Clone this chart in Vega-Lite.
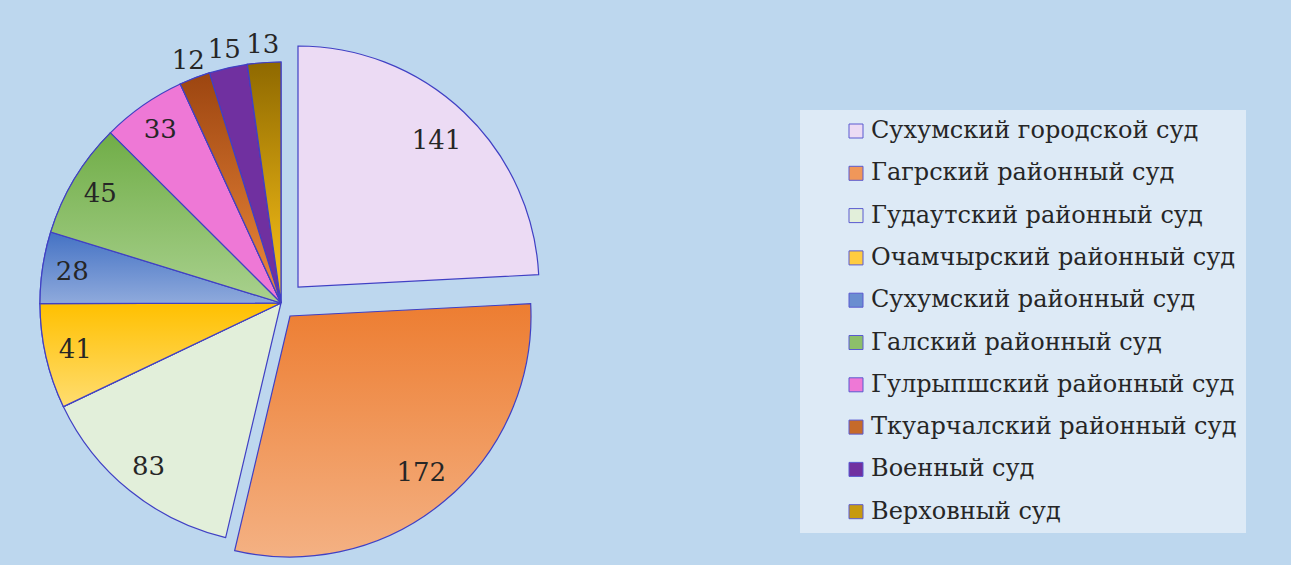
{
  "$schema": "https://vega.github.io/schema/vega-lite/v6.json",
  "width": 562,
  "height": 606,
  "autosize": {"type": "none"},
  "padding": {"left": 0, "top": 0, "right": 729, "bottom": 0},
  "background": "#BDD7EE",
  "config": {"view": {"stroke": null}},
  "data": {
    "values": [
      {"court": "Сухумский городской суд", "value": 141, "i": 0},
      {"court": "Гагрский районный суд", "value": 172, "i": 1},
      {"court": "Гудаутский районный суд", "value": 83, "i": 2},
      {"court": "Очамчырский районный суд", "value": 41, "i": 3},
      {"court": "Сухумский районный суд", "value": 28, "i": 4},
      {"court": "Галский районный суд", "value": 45, "i": 5},
      {"court": "Гулрыпшский районный суд", "value": 33, "i": 6},
      {"court": "Ткуарчалский районный суд", "value": 12, "i": 7},
      {"court": "Военный суд", "value": 15, "i": 8},
      {"court": "Верховный суд", "value": 13, "i": 9}
    ]
  },
  "encoding": {
    "theta": {"field": "value", "type": "quantitative", "stack": true},
    "order": {"field": "i", "type": "quantitative"}
  },
  "layer": [
    {
      "mark": {"type": "arc", "radius": 241, "stroke": "#4040C4", "strokeWidth": 1.2},
      "encoding": {
        "color": {
          "field": "court",
          "type": "nominal",
          "scale": {
            "domain": ["Сухумский городской суд", "Гагрский районный суд", "Гудаутский районный суд", "Очамчырский районный суд", "Сухумский районный суд", "Галский районный суд", "Гулрыпшский районный суд", "Ткуарчалский районный суд", "Военный суд", "Верховный суд"],
            "range": ["#ECDBF4", "#F0975A", "#E2EFDA", "#FFCC40", "#6A8ED0", "#8DBF6A", "#EE78D6", "#C66A2A", "#7030A0", "#C79A10"]
          },
          "legend": {
            "title": null,
            "orient": "none",
            "legendX": 800,
            "legendY": 110,
            "fillColor": "#DDEAF6",
            "padding": 9,
            "rowPadding": 18.3,
            "symbolType": "square",
            "symbolSize": 196,
            "symbolStrokeColor": "#5A5AD0",
            "symbolStrokeWidth": 1,
            "symbolOffset": 35,
            "labelOffset": 3,
            "labelFont": "DejaVu Serif",
            "labelFontSize": 24,
            "labelColor": "#262626",
            "labelLimit": 0
          }
        },
        "opacity": {"condition": {"test": "datum.i >= 2", "value": 1}, "value": 0}
      }
    },
    {
      "mark": {"type": "arc", "radius": 241, "stroke": "#4040C4", "strokeWidth": 1.2, "xOffset": 17, "yOffset": -16},
      "encoding": {
        "color": {"field": "court", "type": "nominal"},
        "opacity": {"condition": {"test": "datum.i === 0", "value": 1}, "value": 0}
      }
    },
    {
      "mark": {"type": "arc", "radius": 241, "stroke": "#4040C4", "strokeWidth": 1.2, "xOffset": 9, "yOffset": 13,
        "fill": {"gradient": "linear", "x1": 0, "y1": 0, "x2": 0, "y2": 1, "stops": [{"offset": 0, "color": "#ED7D31"}, {"offset": 1, "color": "#F4B183"}]}},
      "encoding": {
        "opacity": {"condition": {"test": "datum.i === 1", "value": 1}, "value": 0}
      }
    },
    {
      "mark": {"type": "arc", "radius": 241, "stroke": "#4040C4", "strokeWidth": 1.2,
        "fill": {"gradient": "linear", "x1": 0, "y1": 0, "x2": 0, "y2": 1, "stops": [{"offset": 0, "color": "#FFC000"}, {"offset": 1, "color": "#FFDD70"}]}},
      "encoding": {
        "opacity": {"condition": {"test": "datum.i === 3", "value": 1}, "value": 0}
      }
    },
    {
      "mark": {"type": "arc", "radius": 241, "stroke": "#4040C4", "strokeWidth": 1.2,
        "fill": {"gradient": "linear", "x1": 0, "y1": 0, "x2": 0, "y2": 1, "stops": [{"offset": 0, "color": "#4472C4"}, {"offset": 1, "color": "#8FAADC"}]}},
      "encoding": {
        "opacity": {"condition": {"test": "datum.i === 4", "value": 1}, "value": 0}
      }
    },
    {
      "mark": {"type": "arc", "radius": 241, "stroke": "#4040C4", "strokeWidth": 1.2,
        "fill": {"gradient": "linear", "x1": 0, "y1": 0, "x2": 0, "y2": 1, "stops": [{"offset": 0, "color": "#70AD47"}, {"offset": 1, "color": "#A9D18E"}]}},
      "encoding": {
        "opacity": {"condition": {"test": "datum.i === 5", "value": 1}, "value": 0}
      }
    },
    {
      "mark": {"type": "arc", "radius": 241, "stroke": "#4040C4", "strokeWidth": 1.2,
        "fill": {"gradient": "linear", "x1": 0, "y1": 0, "x2": 0, "y2": 1, "stops": [{"offset": 0, "color": "#9C4510"}, {"offset": 1, "color": "#F08A3C"}]}},
      "encoding": {
        "opacity": {"condition": {"test": "datum.i === 7", "value": 1}, "value": 0}
      }
    },
    {
      "mark": {"type": "arc", "radius": 241, "stroke": "#4040C4", "strokeWidth": 1.2,
        "fill": {"gradient": "linear", "x1": 0, "y1": 0, "x2": 0, "y2": 1, "stops": [{"offset": 0, "color": "#8F6900"}, {"offset": 1, "color": "#FFC61A"}]}},
      "encoding": {
        "opacity": {"condition": {"test": "datum.i === 9", "value": 1}, "value": 0}
      }
    },
    {
      "mark": {"type": "text", "radius": 211, "font": "DejaVu Serif", "fontSize": 26, "color": "#262626"},
      "encoding": {
        "detail": {"field": "court", "type": "nominal"},
        "text": {"field": "value", "type": "quantitative"},
        "opacity": {"condition": {"test": "datum.i >= 2 && datum.i <= 6", "value": 1}, "value": 0}
      }
    },
    {
      "mark": {"type": "text", "radius": 201, "font": "DejaVu Serif", "fontSize": 26, "color": "#262626", "xOffset": 17, "yOffset": -16},
      "encoding": {
        "detail": {"field": "court", "type": "nominal"},
        "text": {"field": "value", "type": "quantitative"},
        "opacity": {"condition": {"test": "datum.i === 0", "value": 1}, "value": 0}
      }
    },
    {
      "mark": {"type": "text", "radius": 205, "font": "DejaVu Serif", "fontSize": 26, "color": "#262626", "xOffset": 9, "yOffset": 13},
      "encoding": {
        "detail": {"field": "court", "type": "nominal"},
        "text": {"field": "value", "type": "quantitative"},
        "opacity": {"condition": {"test": "datum.i === 1", "value": 1}, "value": 0}
      }
    },
    {
      "mark": {"type": "text", "radius": 259, "font": "DejaVu Serif", "fontSize": 26, "color": "#262626"},
      "encoding": {
        "detail": {"field": "court", "type": "nominal"},
        "text": {"field": "value", "type": "quantitative"},
        "opacity": {"condition": {"test": "datum.i >= 7", "value": 1}, "value": 0}
      }
    }
  ]
}
